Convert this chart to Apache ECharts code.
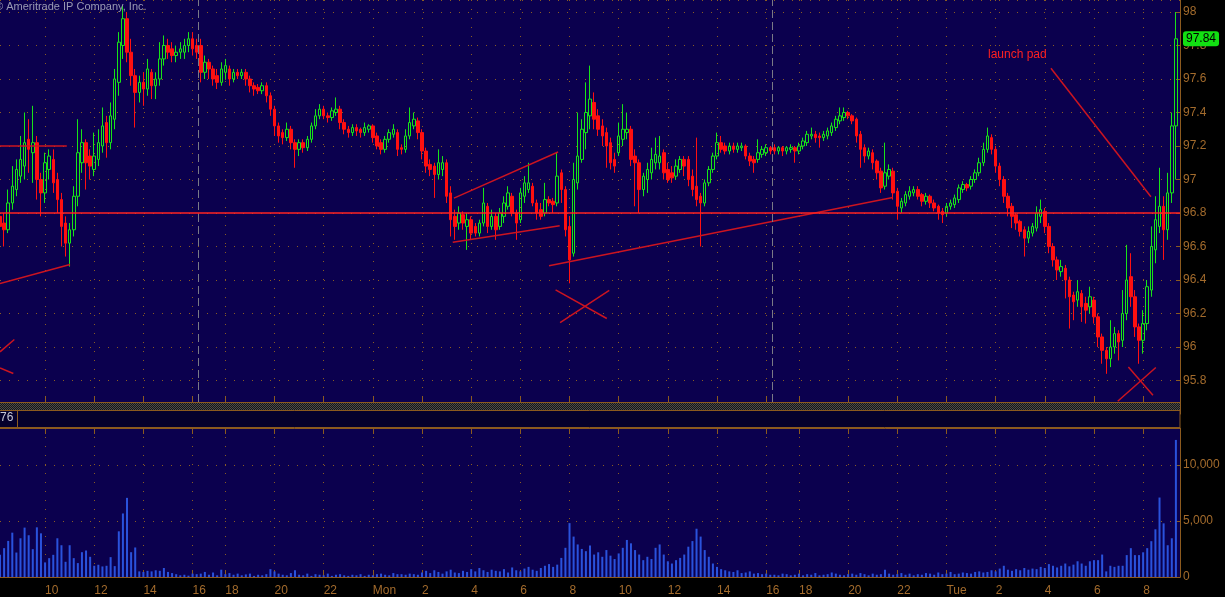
<!DOCTYPE html>
<html>
<head>
<meta charset="utf-8">
<script src="https://cdn.jsdelivr.net/npm/echarts@6/dist/echarts.min.js"></script>
<style>
    html, body { margin: 0; padding: 0; background: #000; }
    #chart { width: 1225px; height: 597px; }
</style>
</head>
<body>
<div id="chart"></div>
<script type="text/javascript">
    // trading sessions, 10 minute bars (last Mon-Tue slot is empty on purpose)
    var sessions = [
        { day: 'Fri', next: 'Sat', start: '08:10', end: '16:10' },
        { day: 'Sun', next: 'Mon', start: '17:00', end: '16:10' },
        { day: 'Mon', next: 'Tue', start: '17:00', end: '09:30' }
    ];

    // [open, close, low, high]
    var friBars = [
        [96.78,96.72,96.62,96.84],[96.74,96.70,96.60,96.80],[96.70,96.86,96.68,96.94],[96.86,96.96,96.82,97.08],
        [96.94,97.06,96.90,97.12],[97.02,97.12,96.98,97.26],[97.08,97.22,97.00,97.40],[97.24,97.18,97.04,97.36],
        [97.16,97.22,96.98,97.44],[97.22,97.00,96.88,97.26],[97.00,96.92,96.78,97.04],[96.92,97.10,96.86,97.16],
        [97.06,97.14,97.00,97.18],[97.12,96.98,96.92,97.18],[97.00,96.88,96.80,97.04],[96.88,96.72,96.60,96.92],
        [96.74,96.62,96.54,96.78],[96.62,96.70,96.48,96.74],[96.70,96.90,96.66,96.96],[96.90,97.16,96.84,97.36],
        [97.10,97.22,97.04,97.30],[97.22,97.10,96.94,97.24],[97.14,97.08,97.00,97.18],[97.06,97.14,97.02,97.28],
        [97.12,97.22,97.08,97.30],[97.20,97.32,97.16,97.43],[97.34,97.22,97.13,97.38],[97.22,97.38,97.18,97.46],
        [97.36,97.60,97.30,97.66],[97.58,97.82,97.50,97.88],[97.80,97.96,97.72,98.04],[97.96,97.76,97.70,98.00],
        [97.76,97.62,97.56,97.84],[97.62,97.52,97.31,97.66],[97.52,97.58,97.46,97.62],[97.58,97.54,97.44,97.64],
        [97.54,97.66,97.50,97.72],[97.64,97.56,97.48,97.66],[97.56,97.60,97.48,97.64],[97.60,97.72,97.56,97.82],
        [97.72,97.80,97.68,97.86],[97.80,97.76,97.72,97.84],[97.78,97.74,97.70,97.82],[97.74,97.76,97.70,97.80],
        [97.76,97.78,97.72,97.82],[97.76,97.80,97.72,97.84],[97.80,97.84,97.76,97.88],[97.84,97.78,97.74,97.88],
        [97.80,97.76,97.72,97.84]
    ];
    var sunMonBars = [
        [97.80,97.64,97.58,97.84],[97.64,97.70,97.60,97.74],[97.70,97.66,97.60,97.72],[97.66,97.60,97.56,97.68],
        [97.62,97.58,97.54,97.66],[97.58,97.66,97.56,97.70],[97.64,97.68,97.60,97.72],[97.66,97.60,97.56,97.68],
        [97.60,97.64,97.58,97.66],[97.64,97.62,97.60,97.66],[97.62,97.64,97.60,97.66],[97.64,97.60,97.56,97.66],
        [97.60,97.56,97.52,97.62],[97.56,97.54,97.50,97.58],[97.55,97.53,97.51,97.57],[97.53,97.56,97.51,97.58],
        [97.56,97.50,97.46,97.58],[97.50,97.42,97.38,97.52],[97.42,97.32,97.26,97.44],[97.32,97.26,97.22,97.34],
        [97.28,97.25,97.21,97.30],[97.25,97.30,97.23,97.34],[97.30,97.22,97.18,97.32],[97.22,97.18,97.07,97.24],
        [97.18,97.22,97.14,97.24],[97.22,97.19,97.16,97.24],[97.19,97.24,97.17,97.26],[97.24,97.32,97.22,97.34],
        [97.32,97.38,97.30,97.42],[97.38,97.42,97.36,97.45],[97.42,97.38,97.36,97.44],[97.38,97.37,97.34,97.40],
        [97.37,97.41,97.35,97.43],[97.40,97.42,97.38,97.49],[97.42,97.34,97.30,97.44],[97.34,97.30,97.27,97.36],
        [97.30,97.28,97.25,97.32],[97.28,97.31,97.26,97.33],[97.31,97.29,97.26,97.33],[97.30,97.28,97.25,97.31],
        [97.28,97.31,97.26,97.34],[97.30,97.32,97.28,97.33],[97.32,97.25,97.22,97.33],[97.26,97.20,97.18,97.28],
        [97.22,97.18,97.15,97.24],[97.18,97.24,97.16,97.26],[97.24,97.28,97.22,97.30],[97.27,97.30,97.25,97.33],
        [97.28,97.18,97.14,97.30],[97.19,97.18,97.15,97.21],[97.18,97.26,97.16,97.30],[97.26,97.34,97.24,97.43],
        [97.32,97.36,97.30,97.40],[97.35,97.28,97.24,97.37],[97.28,97.17,97.12,97.30],[97.17,97.08,97.04,97.19],
        [97.09,97.06,97.02,97.12],[97.08,97.03,96.89,97.10],[97.03,97.10,97.00,97.18],[97.06,97.10,97.02,97.14],
        [97.10,96.90,96.86,97.12],[96.92,96.76,96.66,96.96],[96.78,96.72,96.64,96.82],[96.74,96.80,96.70,96.84],
        [96.79,96.74,96.70,96.81],[96.72,96.76,96.58,96.80],[96.76,96.68,96.64,96.78],[96.72,96.68,96.66,96.74],
        [96.68,96.74,96.66,96.76],[96.74,96.86,96.72,96.95],[96.84,96.72,96.68,96.86],[96.72,96.78,96.70,96.82],
        [96.78,96.70,96.64,96.80],[96.72,96.80,96.70,96.83],[96.78,96.86,96.74,96.90],[96.84,96.92,96.82,96.96],
        [96.90,96.80,96.78,96.92],[96.80,96.74,96.64,96.82],[96.76,96.92,96.74,96.95],[96.90,96.98,96.86,97.02],
        [96.94,96.98,96.92,97.10],[96.96,96.86,96.84,96.98],[96.86,96.80,96.76,96.88],[96.82,96.78,96.76,96.86],
        [96.80,96.88,96.78,96.98],[96.88,96.86,96.84,96.90],[96.87,96.85,96.80,96.89],[96.86,97.02,96.84,97.16],
        [97.04,96.94,96.86,97.06],[96.94,96.70,96.66,96.96],[96.72,96.52,96.38,96.78],[96.56,97.00,96.54,97.10],
        [96.98,97.14,96.94,97.40],[97.12,97.30,97.10,97.36],[97.28,97.40,97.18,97.58],[97.38,97.48,97.30,97.68],
        [97.46,97.36,97.30,97.52],[97.38,97.30,97.26,97.42],[97.32,97.26,97.20,97.36],[97.28,97.20,97.07,97.31],
        [97.22,97.10,97.06,97.25],[97.12,97.08,97.04,97.16],[97.16,97.26,97.14,97.34],[97.24,97.30,97.20,97.45],
        [97.28,97.30,97.24,97.40],[97.30,97.12,97.08,97.32],[97.14,97.10,96.84,97.18],[97.10,96.94,96.80,97.12],
        [96.94,97.02,96.90,97.04],[97.00,97.06,96.92,97.10],[97.04,97.12,97.00,97.19],[97.10,97.15,97.06,97.25],
        [97.10,97.14,97.06,97.26],[97.16,97.04,97.00,97.18],[97.06,97.00,96.98,97.10],[97.04,97.01,96.98,97.08],
        [97.02,97.08,97.00,97.12],[97.06,97.12,97.04,97.14],[97.12,97.08,97.02,97.14],[97.12,97.00,96.96,97.14],
        [97.02,96.94,96.90,97.06],[96.96,96.88,96.84,97.25],[96.90,96.86,96.60,96.92],[96.86,96.98,96.84,97.00],
        [96.98,97.06,96.96,97.08],[97.06,97.14,97.04,97.16],[97.14,97.22,97.12,97.28],[97.22,97.18,97.16,97.26],
        [97.20,97.17,97.15,97.22],[97.17,97.20,97.15,97.22],[97.20,97.18,97.16,97.22],[97.18,97.20,97.16,97.22],
        [97.19,97.20,97.17,97.22],[97.20,97.14,97.12,97.21],[97.14,97.11,97.08,97.16],[97.12,97.10,97.04,97.14],
        [97.12,97.16,97.10,97.24],[97.15,97.18,97.13,97.20],[97.16,97.19,97.14,97.21],[97.19,97.17,97.15,97.20]
    ];
    var monTueBars = [
        [97.19,97.17,97.15,97.21],[97.17,97.19,97.15,97.20],[97.19,97.17,97.14,97.20],[97.17,97.19,97.15,97.20],
        [97.18,97.19,97.16,97.21],[97.19,97.17,97.10,97.20],[97.17,97.20,97.15,97.22],[97.20,97.23,97.18,97.25],
        [97.22,97.27,97.20,97.29],[97.26,97.27,97.24,97.31],[97.27,97.25,97.22,97.29],[97.26,97.25,97.19,97.28],
        [97.25,97.27,97.23,97.29],[97.26,97.29,97.24,97.31],[97.28,97.32,97.26,97.34],[97.31,97.36,97.29,97.38],
        [97.35,97.38,97.33,97.43],[97.37,97.40,97.35,97.43],[97.40,97.38,97.36,97.41],[97.38,97.35,97.33,97.39],
        [97.36,97.26,97.22,97.37],[97.27,97.18,97.07,97.29],[97.19,97.14,97.10,97.21],[97.14,97.17,97.12,97.19],
        [97.16,97.10,97.06,97.18],[97.11,97.04,97.00,97.12],[97.05,96.95,96.92,97.07],[96.96,97.04,96.94,97.22],
        [97.02,97.06,97.00,97.09],[97.05,96.92,96.88,97.07],[96.93,96.84,96.76,96.95],[96.83,96.87,96.80,96.89],
        [96.86,96.91,96.84,96.93],[96.90,96.93,96.88,96.96],[96.92,96.94,96.90,96.96],[96.94,96.90,96.88,96.96],
        [96.91,96.87,96.84,96.92],[96.87,96.90,96.85,96.92],[96.90,96.86,96.83,96.91],[96.86,96.83,96.81,96.88],
        [96.84,96.80,96.76,96.85],[96.81,96.79,96.74,96.83],[96.80,96.84,96.78,96.86],[96.84,96.86,96.82,96.88],
        [96.85,96.89,96.83,96.91],[96.88,96.95,96.86,96.97],[96.94,96.97,96.92,96.99],[96.97,96.95,96.93,96.98],
        [96.96,97.00,96.94,97.02],[97.00,97.04,96.98,97.06],[97.04,97.10,97.02,97.13],[97.10,97.18,97.08,97.22],
        [97.18,97.26,97.16,97.31],[97.25,97.18,97.15,97.27],[97.18,97.08,97.04,97.20],[97.08,97.00,96.96,97.10],
        [97.00,96.90,96.86,97.02],[96.90,96.83,96.78,96.92],[96.84,96.78,96.71,96.86],[96.79,96.74,96.70,96.80],
        [96.75,96.69,96.66,96.76],[96.70,96.65,96.54,96.72],[96.65,96.69,96.62,96.72],[96.68,96.72,96.66,96.74],
        [96.71,96.80,96.69,96.84],[96.78,96.82,96.74,96.88],[96.81,96.72,96.68,96.83],[96.72,96.60,96.56,96.74],
        [96.60,96.52,96.48,96.62],[96.52,96.46,96.40,96.54],[96.45,96.48,96.42,96.52],[96.47,96.40,96.29,96.49],
        [96.40,96.30,96.11,96.42],[96.31,96.27,96.16,96.33],[96.28,96.33,96.24,96.40],[96.32,96.24,96.15,96.34],
        [96.26,96.22,96.14,96.30],[96.24,96.30,96.20,96.36],[96.28,96.18,96.14,96.30],[96.18,96.06,96.00,96.20],
        [96.06,95.98,95.90,96.08],[95.98,95.93,95.84,96.00],[95.93,96.00,95.88,96.16],[96.00,96.08,95.96,96.12],
        [96.08,96.03,95.92,96.10],[96.04,96.20,96.00,96.34],[96.20,96.40,96.16,96.61],[96.42,96.30,96.24,96.56],
        [96.30,96.12,96.06,96.34],[96.12,96.04,95.90,96.14],[96.04,96.14,95.96,96.22],[96.14,96.36,96.10,96.40],
        [96.34,96.60,96.30,96.72],[96.58,96.76,96.50,96.90],[96.72,96.84,96.68,97.07],[96.84,96.70,96.52,96.90],
        [96.70,96.92,96.64,97.04],[96.92,97.32,96.86,97.40],[97.32,97.84,97.00,98.00]
    ];

    // contracts per bar
    var friVol = [1975,2570,3215,3950,2180,3450,4400,3720,2480,4425,3890,1300,1680,1975,3450,2830,1355,2830,1680,1240,
        2210,2360,1800,1000,1090,940,1000,1770,970,4070,5660,7050,2210,2630,500,450,550,500,600,550,
        800,450,350,250,150,200,120,300,250];
    var sunMonVol = [300,450,200,400,150,650,250,350,200,300,150,230,300,100,200,150,250,700,500,300,
        200,150,350,600,200,150,300,100,250,200,150,300,100,200,250,150,100,200,150,250,
        100,200,150,250,300,200,150,350,250,250,200,300,250,200,400,550,350,600,450,300,
        500,650,400,350,550,450,700,500,800,600,450,650,550,500,700,400,850,600,500,750,
        900,650,550,800,1000,1150,900,1100,1700,2600,4800,3600,2900,2500,2300,2800,2000,2200,1800,2400,
        1900,1600,2100,2600,3300,3000,2400,2000,1500,1800,1600,2600,2900,2000,1400,1200,1500,1700,2000,2700,
        3200,4300,3600,2400,1800,1200,900,700,600,500,450,600,350,400,500,300,350,250,300,200];
    var monTueVol = [200,150,300,250,150,200,300,150,250,200,350,150,200,250,400,300,200,150,250,300,
        200,350,250,150,300,200,250,650,300,200,250,350,200,300,150,250,200,350,300,200,
        400,250,300,450,250,300,400,350,300,450,500,400,450,600,500,750,1000,650,550,700,
        600,800,650,750,700,900,800,1150,1000,850,1000,1200,950,1100,1400,1200,1000,1400,1500,1500,
        2000,500,1000,900,1000,1000,1950,2570,1950,1950,2200,2570,3190,4250,7080,4780,2830,3450,12210];

    // drawn studies: [x1, price1, x2, price2], x in bar slots
    var trendLines = [
        [0, 97.204, 16.3, 97.204],
        [0, 96.379, 17.1, 96.493],
        [0, 95.971, 3.5, 96.045],
        [0, 95.875, 3.25, 95.842],
        [110.8, 96.889, 136.2, 97.164],
        [110.5, 96.626, 136.6, 96.724],
        [134.0, 96.485, 217.9, 96.893],
        [135.6, 96.341, 148.1, 96.170],
        [136.7, 96.146, 148.7, 96.338],
        [275.4, 95.881, 281.4, 95.712],
        [272.8, 95.676, 282.1, 95.878],
        [256.5, 97.664, 280.9, 96.897]
    ];
    var supportLevel = 96.8;
    var sessionBreaks = [48.5, 188.5];

    var NAVY = '#0b004e', BROWN = '#8c5a1e', TEXT = '#a36b2c', DOT = '#8a5c22';
    var FONT = 'Liberation Sans';

    function pad(n) { return n < 10 ? '0' + n : '' + n; }
    function toMin(s) { return +s.slice(0, 2) * 60 + +s.slice(3, 5); }

    var cats = [];
    sessions.forEach(function (s) {
        var a = toMin(s.start), b = toMin(s.end);
        if (b <= a) b += 1440;
        for (var t = a; t <= b; t += 10) {
            var m = t % 1440;
            cats.push((t >= 1440 ? s.next : s.day) + ' ' + pad(Math.floor(m / 60)) + ':' + pad(m % 60));
        }
    });

    var bars = friBars.concat(sunMonBars, monTueBars);
    var vols = friVol.concat(sunMonVol, monTueVol);
    var lastClose = bars[bars.length - 1][1];

    function isMark(idx, val) {
        return val.slice(7, 9) === '00' && (+val.slice(4, 6)) % 2 === 0;
    }
    function timeLabel(val) {
        var h = +val.slice(4, 6);
        return h === 0 ? val.slice(0, 3) : '' + h;
    }

    // checkered fill for the pane splitter
    var checker = document.createElement('canvas');
    checker.width = 2; checker.height = 2;
    var cctx = checker.getContext('2d');
    cctx.fillStyle = '#161616'; cctx.fillRect(0, 0, 2, 2);
    cctx.fillStyle = '#4a4a4a'; cctx.fillRect(0, 0, 1, 1); cctx.fillRect(1, 1, 1, 1);

    var studyLines = [];
    trendLines.forEach(function (l) {
        studyLines.push([{ coord: [l[0], l[1]] }, { coord: [l[2], l[3]] }]);
    });
    studyLines.push({ yAxis: supportLevel, lineStyle: { color: '#ff2323', width: 1.5, type: 'solid' } });
    sessionBreaks.forEach(function (x) {
        studyLines.push({ xAxis: x, lineStyle: { color: '#7a7a86', width: 1, type: [8, 4] } });
    });
    studyLines.push({
        yAxis: lastClose,
        lineStyle: { color: 'rgba(0,0,0,0)', width: 0 },
        label: {
            show: true, position: 'end', distance: 3, formatter: lastClose.toFixed(2),
            backgroundColor: '#12e012', color: '#000', borderRadius: 3, padding: [1, 3],
            fontFamily: FONT, fontSize: 12, lineHeight: 13
        }
    });

    var myChart = echarts.init(document.getElementById('chart'));
    var option = {
        backgroundColor: '#000',
        animation: false,
        grid: [
            // price pane runs down to 95.6 under the separator strip
            { left: 0, top: 0, width: 1180, height: 414, show: true, backgroundColor: NAVY, borderWidth: 0 },
            { left: 0, top: 428, width: 1180, height: 150, show: true, backgroundColor: NAVY, borderWidth: 0 }
        ],
        xAxis: [
            {
                type: 'category', gridIndex: 0, data: cats, boundaryGap: false, offset: -12,
                axisLine: { onZero: false, lineStyle: { color: BROWN } },
                axisTick: { inside: true, length: 5, interval: isMark, lineStyle: { color: BROWN } },
                axisLabel: { show: false },
                splitLine: { show: true, interval: isMark, lineStyle: { color: DOT, type: [1, 8] } }
            },
            {
                type: 'category', gridIndex: 1, data: cats, boundaryGap: false,
                axisLine: { onZero: false, lineStyle: { color: BROWN } },
                axisTick: { inside: true, length: 7, interval: isMark, lineStyle: { color: BROWN } },
                axisLabel: {
                    interval: isMark, formatter: timeLabel, align: 'left', margin: 8,
                    color: TEXT, fontFamily: FONT, fontSize: 12
                },
                splitLine: { show: true, interval: isMark, lineStyle: { color: DOT, type: [1, 8] } }
            },
            {
                type: 'category', gridIndex: 1, position: 'top', data: cats, boundaryGap: false,
                axisLine: { onZero: false, lineStyle: { color: BROWN } },
                axisTick: { inside: true, length: 6, interval: isMark, lineStyle: { color: BROWN } },
                axisLabel: { show: false },
                splitLine: { show: false }
            },
            {
                type: 'value', gridIndex: 0, min: 0, max: cats.length - 1, show: false,
                axisLine: { show: false, onZero: false }, splitLine: { show: false }
            }
        ],
        yAxis: [
            {
                type: 'value', gridIndex: 0, position: 'right', min: 95.6, max: 98.0717, interval: 0.2,
                axisLine: { show: true, onZero: false, lineStyle: { color: BROWN } },
                axisTick: { show: true, inside: true, length: 4, lineStyle: { color: BROWN } },
                axisLabel: {
                    color: TEXT, fontFamily: FONT, fontSize: 12, margin: 3,
                    showMinLabel: false, showMaxLabel: false,
                    formatter: function (v) { return '' + parseFloat(v.toFixed(1)); }
                },
                splitLine: { show: true, lineStyle: { color: DOT, type: [1, 8] } }
            },
            {
                type: 'value', gridIndex: 1, position: 'right', min: 0, max: 13274, interval: 5000,
                axisLine: { show: true, onZero: false, lineStyle: { color: BROWN } },
                axisTick: { show: true, inside: true, length: 4, lineStyle: { color: BROWN } },
                axisLabel: {
                    color: TEXT, fontFamily: FONT, fontSize: 12, margin: 3, showMaxLabel: false,
                    formatter: function (v) { return v.toLocaleString('en-US'); }
                },
                splitLine: { show: true, lineStyle: { color: DOT, type: [1, 8] } }
            }
        ],
        graphic: [
            { type: 'rect', z: 100, shape: { x: 0, y: 403, width: 1180, height: 7 }, style: { fill: { image: checker, repeat: 'repeat' } } },
            { type: 'rect', z: 100, shape: { x: -1, y: 410.5, width: 1181, height: 17 }, style: { fill: '#05002c', stroke: BROWN, lineWidth: 1 } },
            { type: 'line', z: 101, shape: { x1: 17.5, y1: 410, x2: 17.5, y2: 428 }, style: { stroke: BROWN, lineWidth: 1 } },
            { type: 'text', z: 101, style: { text: '76', x: 0, y: 412, fill: '#c8c8d8', font: '12px "Liberation Sans"', verticalAlign: 'top' } },
            { type: 'text', z: 101, style: { text: '\u00a9 Ameritrade IP Company, Inc.', x: -5, y: 1, fill: '#9a9ab4', font: '11px "Liberation Sans"', verticalAlign: 'top' } },
            { type: 'text', z: 101, style: { text: 'launch pad', x: 988, y: 49, fill: '#ff2020', font: '12px "Liberation Sans"', verticalAlign: 'top' } }
        ],
        series: [
            {
                name: 'price', type: 'candlestick', xAxisIndex: 0, yAxisIndex: 0, data: bars, barWidth: 3,
                itemStyle: { color: 'transparent', color0: '#ff1010', borderColor: '#18e418', borderColor0: '#ff1010', borderWidth: 1 }
            },
            {
                name: 'studies', type: 'line', xAxisIndex: 3, yAxisIndex: 0, data: [], silent: true,
                markLine: {
                    silent: true, symbol: ['none', 'none'], animation: false,
                    label: { show: false },
                    lineStyle: { color: '#cc1420', width: 1.5, type: 'solid' },
                    data: studyLines
                }
            },
            {
                name: 'volume', type: 'bar', xAxisIndex: 1, yAxisIndex: 1, data: vols, barWidth: 2,
                itemStyle: { color: '#2a52dc' }
            }
        ]
    };
    myChart.setOption(option);
</script>
</body>
</html>
